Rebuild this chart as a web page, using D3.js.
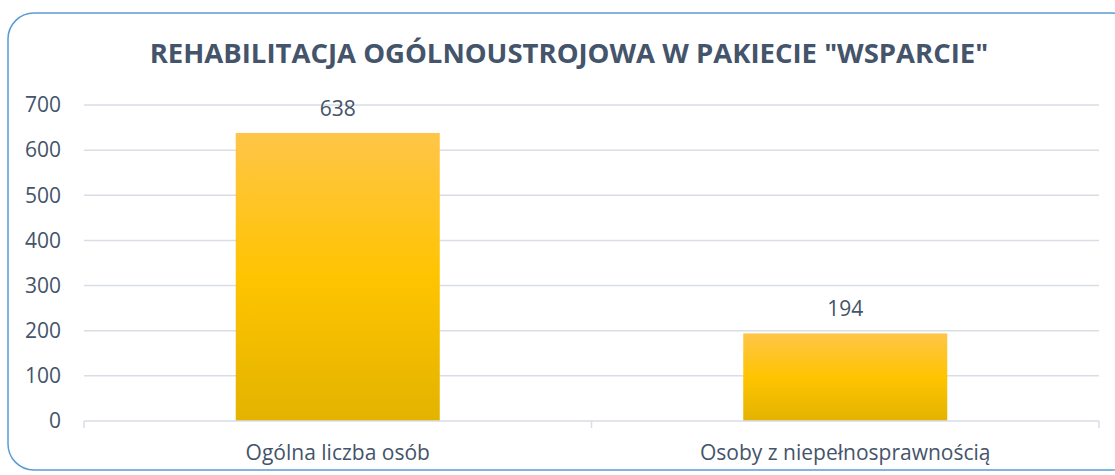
<!DOCTYPE html>
<html><head><meta charset="utf-8">
<script src="https://cdn.jsdelivr.net/npm/d3@7"></script>
<style>html,body{margin:0;padding:0;background:#fff;}svg{display:block;}</style>
</head><body>
<svg id="chart" width="1115" height="475"></svg>
<script>
const title = 'REHABILITACJA OGÓLNOUSTROJOWA W PAKIECIE "WSPARCIE"';
const categories = ["Ogólna liczba osób", "Osoby z niepełnosprawnością"];
const values = [638, 194];
const yTicks = [0, 100, 200, 300, 400, 500, 600, 700];

const W = 1115, H = 475;
const m = {left: 84, right: 16, top: 105, bottom: 54};
const svg = d3.select("#chart");
const font = "'Open Sans', 'Noto Sans', sans-serif";
const textColor = "#44546a";

// border
svg.append("rect").attr("x", 8).attr("y", 13).attr("width", 1130).attr("height", 457)
  .attr("rx", 26).attr("ry", 26).attr("fill", "#fff").attr("stroke", "#5b9bd5").attr("stroke-width", 1.5);

const defs = svg.append("defs");
const grad = defs.append("linearGradient").attr("id", "barGrad").attr("x1", 0).attr("y1", 0).attr("x2", 0).attr("y2", 1);
grad.append("stop").attr("offset", "0%").attr("stop-color", "#ffc548");
grad.append("stop").attr("offset", "50%").attr("stop-color", "#ffc400");
grad.append("stop").attr("offset", "100%").attr("stop-color", "#e3b300");

const x = d3.scaleBand().domain(categories).range([m.left, W - m.right])
  .paddingInner(0.598).paddingOuter(0.299);
const y = d3.scaleLinear().domain([0, 700]).range([H - m.bottom, m.top]);

// gridlines
svg.append("g").selectAll("line").data(yTicks.filter(d => d > 0)).join("line")
  .attr("x1", m.left).attr("x2", W - m.right)
  .attr("y1", d => y(d)).attr("y2", d => y(d))
  .attr("stroke", "#d9dde5").attr("stroke-width", 1.5);

// bars
svg.append("g").selectAll("rect").data(values).join("rect")
  .attr("x", (d, i) => x(categories[i])).attr("width", x.bandwidth())
  .attr("y", d => y(d)).attr("height", d => y(0) - y(d))
  .attr("fill", "url(#barGrad)");

// x axis line and ticks
const xAxisG = svg.append("g").attr("transform", `translate(0,${y(0)})`)
  .call(d3.axisBottom(x).tickSize(0).tickFormat(""));
xAxisG.select(".domain").remove();
xAxisG.append("line").attr("x1", m.left).attr("x2", W - m.right).attr("y1", 0).attr("y2", 0)
  .attr("stroke", "#d9dde5").attr("stroke-width", 1.5);
const edges = [m.left, (x(categories[0]) + x.bandwidth() + x(categories[1])) / 2, W - m.right];
xAxisG.selectAll(".edge").data(edges).join("line").attr("class", "edge")
  .attr("x1", d => d).attr("x2", d => d).attr("y1", 0).attr("y2", 7)
  .attr("stroke", "#d9dde5").attr("stroke-width", 1.5);

// category labels
svg.append("g").selectAll("text").data(categories).join("text")
  .attr("x", d => x(d) + x.bandwidth() / 2).attr("y", 460)
  .attr("text-anchor", "middle").attr("font-family", font).attr("font-size", 21)
  .attr("fill", textColor).text(d => d);

// y axis labels
const yAxisG = svg.append("g").attr("transform", `translate(${m.left},0)`)
  .call(d3.axisLeft(y).tickValues(yTicks).tickSize(0).tickPadding(23));
yAxisG.select(".domain").remove();
yAxisG.selectAll("text").attr("font-family", font).attr("font-size", 21).attr("fill", textColor);

// data labels
svg.append("g").selectAll("text").data(values).join("text")
  .attr("x", (d, i) => x(categories[i]) + x.bandwidth() / 2).attr("y", d => y(d) - 17)
  .attr("text-anchor", "middle").attr("font-family", font).attr("font-size", 21)
  .attr("fill", textColor).text(d => d);

// title
svg.append("text").attr("x", 569).attr("y", 63).attr("text-anchor", "middle")
  .attr("font-family", font).attr("font-weight", "bold").attr("font-size", 27.5)
  .attr("fill", textColor).text(title);
</script>
</body></html>
